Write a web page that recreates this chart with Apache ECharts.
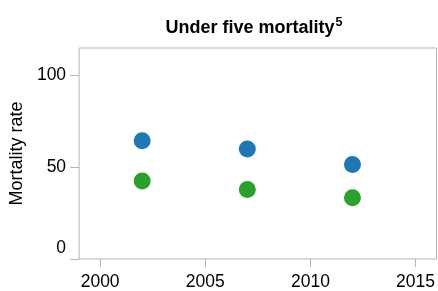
<!DOCTYPE html>
<html>
<head>
<meta charset="utf-8">
<script src="https://cdn.jsdelivr.net/npm/echarts@6/dist/echarts.min.js"></script>
<style>
  html, body { margin: 0; padding: 0; background: #fff; }
  #chart { width: 438px; height: 291px; }
</style>
</head>
<body>
<div id="chart"></div>
<script>
// data
const years = [2002, 2007, 2012];
const seriesA = [64.4, 59.9, 51.5];
const seriesB = [42.5, 37.9, 33.4];
const xTicks = [2000, 2005, 2010, 2015];
const yTicks = [0, 50, 100];

const chart = echarts.init(document.getElementById('chart'), null, { renderer: 'canvas' });

const font = 'Liberation Sans, Arial, sans-serif';
const gray = '#b4b4b4';

chart.setOption({
  animation: false,
  title: {
    text: '{a|Under five mortality}{s|5}',
    left: 249,
    textAlign: 'center',
    top: 6,
    textStyle: {
      rich: {
        a: { fontFamily: font, fontSize: 18, fontWeight: 'bold', color: '#000', lineHeight: 26, verticalAlign: 'bottom' },
        s: { fontFamily: font, fontSize: 12.5, fontWeight: 'bold', color: '#000', lineHeight: 14, verticalAlign: 'top', padding: [5, 0, 0, 1] }
      }
    }
  },
  grid: {
    left: 79, right: 1, top: 48, bottom: 30,
    show: true, borderColor: gray, borderWidth: 1, containLabel: false
  },
  xAxis: {
    type: 'value',
    min: 1999, max: 2016,
    splitLine: { show: false },
    axisLine: { show: false },
    axisTick: { show: true, length: 8, lineStyle: { color: gray }, customValues: xTicks },
    axisLabel: {
      customValues: xTicks, fontFamily: font, fontSize: 17.5, color: '#000', margin: 14,
      formatter: v => String(v)
    }
  },
  yAxis: {
    type: 'value',
    min: 0, max: 115,
    name: 'Mortality rate',
    nameLocation: 'middle',
    nameGap: 46,
    nameTextStyle: { fontFamily: font, fontSize: 18, color: '#000' },
    splitLine: { show: false },
    axisLine: { show: false },
    axisTick: { show: true, length: 9, lineStyle: { color: gray }, customValues: yTicks },
    axisLabel: {
      customValues: yTicks,
      fontFamily: font, fontSize: 17.5, color: '#000', margin: 13,
      formatter: v => v === 0 ? '{z|0}' : String(v),
      rich: { z: { fontFamily: font, fontSize: 17.5, color: '#000', padding: [0, 0, 22, 0] } }
    }
  },
  series: [
    {
      type: 'scatter',
      symbolSize: 17,
      itemStyle: { color: '#1f77b4', opacity: 1 },
      data: years.map((y, i) => [y, seriesA[i]])
    },
    {
      type: 'scatter',
      symbolSize: 17,
      itemStyle: { color: '#2ca02c', opacity: 1 },
      data: years.map((y, i) => [y, seriesB[i]])
    }
  ]
});
</script>
</body>
</html>
